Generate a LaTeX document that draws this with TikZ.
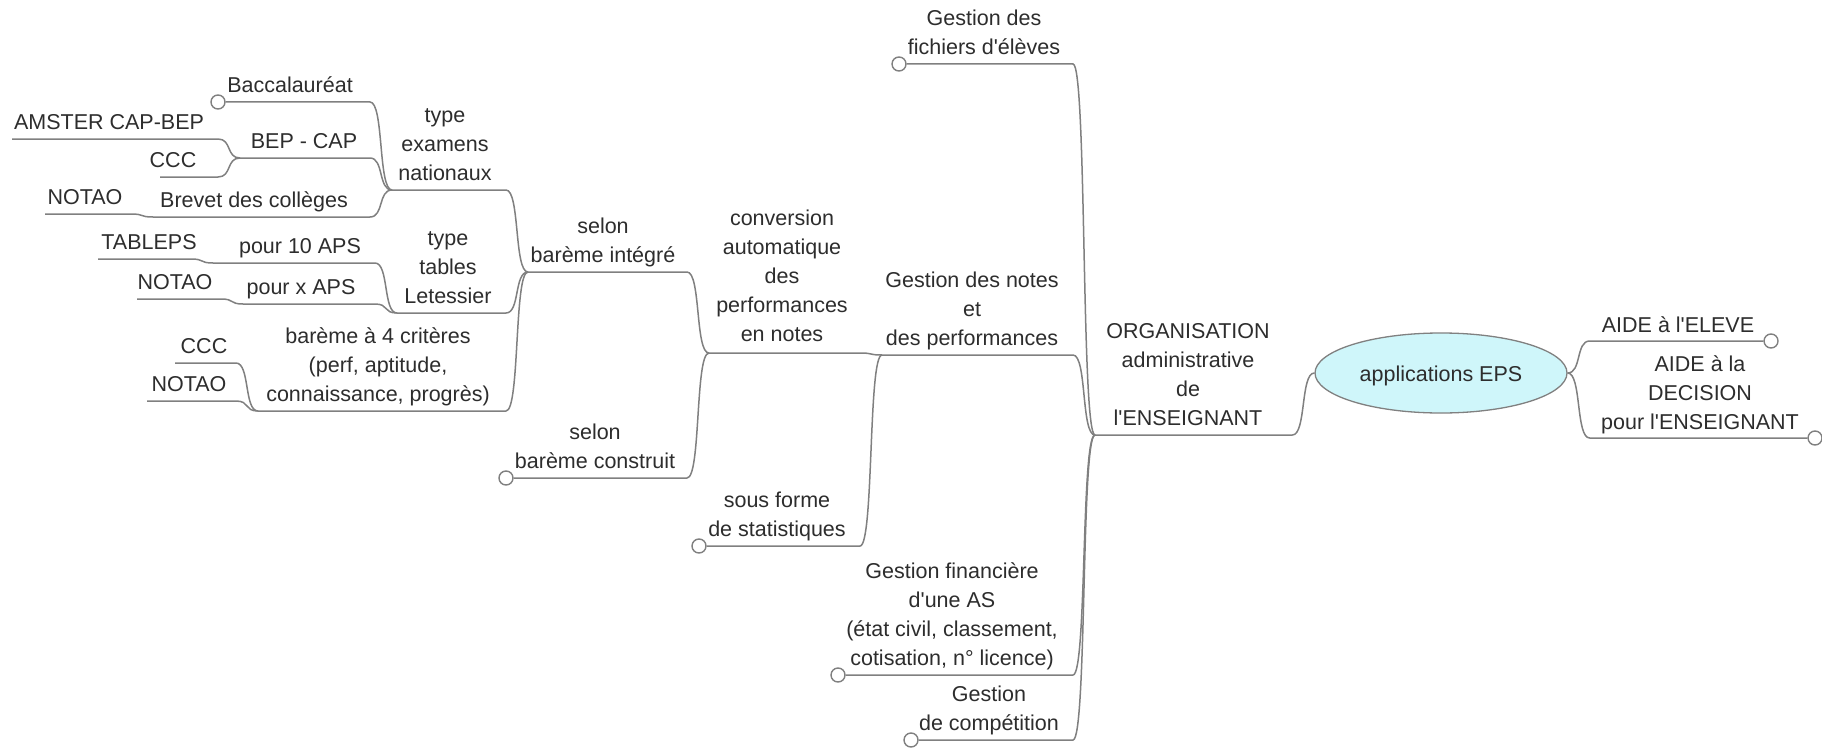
\documentclass[tikz,border=0pt]{standalone}
\usepackage{fontspec}
\setmainfont{Liberation Sans}
\usetikzlibrary{calc,shapes.geometric}

\definecolor{txt}{RGB}{45,45,45}
\definecolor{wire}{RGB}{128,128,128}
\definecolor{rootfill}{RGB}{207,246,250}

% stacked, centred lines whose baseline is the last line
\newcommand{\mmlines}[1]{\begin{tabular}[b]{@{}c@{}}#1\end{tabular}}
\newcommand{\aps}{\textquotesingle}

\begin{document}
\begin{tikzpicture}[x=1pt,y=-1pt,
  lbl/.style={anchor=base, inner sep=0pt, text=txt,
              font=\fontsize{21.5}{29}\selectfont},
  knob/.style={circle, draw=wire, fill=white, line width=1.4pt,
               minimum size=14pt, inner sep=0pt},
  link/.style={draw=wire, line width=1.5pt},
  % branch running right into a parent junction
  mm/.style={to path={-- ($(\tikztostart -| \tikztotarget)+(-22,0)$)
     .. controls ($(\tikztostart -| \tikztotarget)+(-8,0)$)
     and ($(\tikztotarget)+(-14,0)$) .. (\tikztotarget)}},
  % branch leaving the root to the right
  mmr/.style={to path={.. controls ($(\tikztostart)+(14,0)$)
     and ($(\tikztostart |- \tikztotarget)+(8,0)$)
     .. ($(\tikztostart |- \tikztotarget)+(22,0)$) -- (\tikztotarget)}}]

\fill[white] (0,0) rectangle (1822,749);
\useasboundingbox (0,0) rectangle (1822,749);

% ---- root
\node[ellipse, draw=wire, fill=rootfill, line width=1.3pt,
      minimum width=252pt, minimum height=80pt, inner sep=0pt] (root) at (1441,373) {};

% ---- junction points (left ends of the underlines)
\coordinate (org-l)    at (1095,435);
\coordinate (notes-l)  at (882,355);
\coordinate (conv-l)   at (709,353);
\coordinate (integ-l)  at (528,272);
\coordinate (exam-l)   at (392,190);
\coordinate (tables-l) at (397,313);
\coordinate (crit-l)   at (258,411);
\coordinate (bep-l)    at (240,158);
\coordinate (brevet-l) at (153,217);
\coordinate (p10-l)    at (213,263);
\coordinate (px-l)     at (243,304);

% ---- open leaf ends
\coordinate (amster-l)  at (12,139);
\coordinate (ccc1-l)    at (160,177);
\coordinate (notaob-l)  at (45,214);
\coordinate (tableps-l) at (98,259);
\coordinate (notaox-l)  at (137,299);
\coordinate (ccc2-l)    at (175,363);
\coordinate (notaoc-l)  at (147,401);

% ---- folded leaf knobs
\node[knob] (c-bacc)   at (218,102) {};
\node[knob] (c-constr) at (506,478) {};
\node[knob] (c-stat)   at (699,546) {};
\node[knob] (c-fich)   at (899,64) {};
\node[knob] (c-fin)    at (838,675) {};
\node[knob] (c-comp)   at (911,740) {};
\node[knob] (c-aide1)  at (1771,341) {};
\node[knob] (c-aide2)  at (1815,438) {};

% ---- branches
\path[link] (c-fich) to[mm] (org-l);
\path[link] (notes-l) to[mm] (org-l);
\path[link] (c-fin) to[mm] (org-l);
\path[link] (c-comp) to[mm] (org-l);
\path[link] (org-l) to[mm] (root.west);
\path[link] (root.east) to[mmr] (c-aide1);
\path[link] (root.east) to[mmr] (c-aide2);
\path[link] (conv-l) to[mm] (notes-l);
\path[link] (c-stat) to[mm] (notes-l);
\path[link] (integ-l) to[mm] (conv-l);
\path[link] (c-constr) to[mm] (conv-l);
\path[link] (exam-l) to[mm] (integ-l);
\path[link] (tables-l) to[mm] (integ-l);
\path[link] (crit-l) to[mm] (integ-l);
\path[link] (c-bacc) to[mm] (exam-l);
\path[link] (bep-l) to[mm] (exam-l);
\path[link] (brevet-l) to[mm] (exam-l);
\path[link] (amster-l) to[mm] (bep-l);
\path[link] (ccc1-l) to[mm] (bep-l);
\path[link] (notaob-l) to[mm] (brevet-l);
\path[link] (p10-l) to[mm] (tables-l);
\path[link] (px-l) to[mm] (tables-l);
\path[link] (tableps-l) to[mm] (p10-l);
\path[link] (notaox-l) to[mm] (px-l);
\path[link] (ccc2-l) to[mm] (crit-l);
\path[link] (notaoc-l) to[mm] (crit-l);

% ---- labels
\node[lbl] (t-root) at (1441,381) {applications EPS};
\node[lbl] (t-org) at (1188,425.5) {\mmlines{ORGANISATION\\administrative\\de\\l\aps ENSEIGNANT}};
\node[lbl] (t-aide1) at (1678,332) {AIDE à l\aps ELEVE};
\node[lbl] (t-aide2) at (1700,429) {\mmlines{AIDE à la\\DECISION\\pour l\aps ENSEIGNANT}};
\node[lbl] (t-fich) at (984,54.5) {\mmlines{Gestion des\\fichiers d\aps élèves}};
\node[lbl] (t-notes) at (972,345.5) {\mmlines{Gestion des notes\\et\\des performances}};
\node[lbl] (t-fin) at (952,665) {\mmlines{Gestion financière\\d\aps une AS\\(état civil, classement,\\cotisation, n° licence)}};
\node[lbl] (t-comp) at (989,730.5) {\mmlines{Gestion\\de compétition}};
\node[lbl] (t-conv) at (782,341) {\mmlines{conversion\\automatique\\des\\performances\\en notes}};
\node[lbl] (t-stat) at (777,536.5) {\mmlines{sous forme\\de statistiques}};
\node[lbl] (t-integ) at (603,262.5) {\mmlines{selon\\barème intégré}};
\node[lbl] (t-constr) at (595,468.5) {\mmlines{selon\\barème construit}};
\node[lbl] (t-exam) at (445,180.5) {\mmlines{type\\examens\\nationaux}};
\node[lbl] (t-tables) at (448,303.5) {\mmlines{type\\tables\\Letessier}};
\node[lbl] (t-crit) at (378,401.5) {\mmlines{barème à 4 critères\\(perf, aptitude,\\connaissance, progrès)}};
\node[lbl] (t-bacc) at (290,92.5) {Baccalauréat};
\node[lbl] (t-bep) at (304,148.5) {BEP - CAP};
\node[lbl] (t-amster) at (109,129.5) {AMSTER CAP-BEP};
\node[lbl] (t-ccc1) at (173,167.5) {CCC};
\node[lbl] (t-brevet) at (254,207.5) {Brevet des collèges};
\node[lbl] (t-notaob) at (85,204.5) {NOTAO};
\node[lbl] (t-p10) at (300,253.5) {pour 10 APS};
\node[lbl] (t-tableps) at (149,249.5) {TABLEPS};
\node[lbl] (t-px) at (301,294.5) {pour x APS};
\node[lbl] (t-notaox) at (175,289.5) {NOTAO};
\node[lbl] (t-ccc2) at (204,353.5) {CCC};
\node[lbl] (t-notaoc) at (189,391.5) {NOTAO};
\end{tikzpicture}
\end{document}
